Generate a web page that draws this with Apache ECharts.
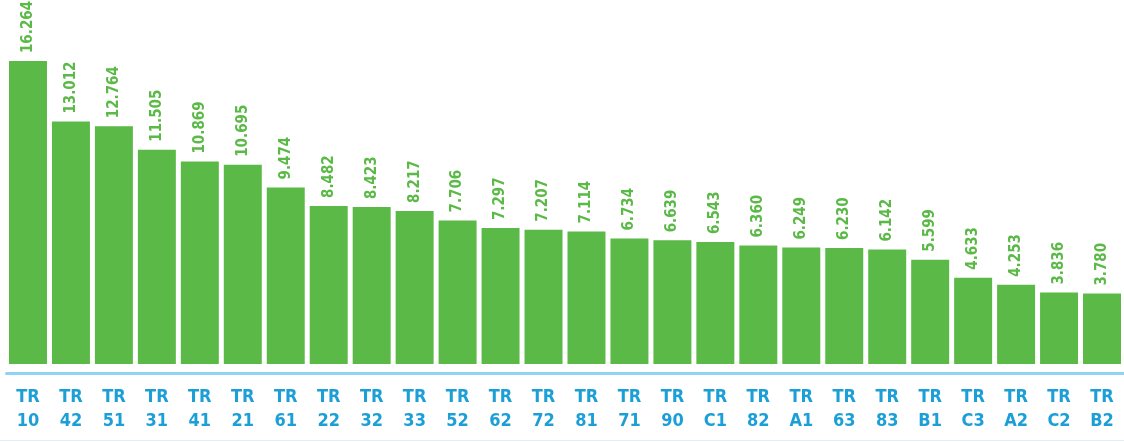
<!DOCTYPE html>
<html><head><meta charset="utf-8">
<script src="https://cdn.jsdelivr.net/npm/echarts@6/dist/echarts.min.js"></script>
<style>html,body{margin:0;padding:0;background:#fff}#c{width:1124px;height:442px}</style>
</head><body><div id="c"></div>
<script>
var codes = ['10','42','51','31','41','21','61','22','32','33','52','62','72','81','71','90','C1','82','A1','63','83','B1','C3','A2','C2','B2'];
var values = [16.264,13.012,12.764,11.505,10.869,10.695,9.474,8.482,8.423,8.217,7.706,7.297,7.207,7.114,6.734,6.639,6.543,6.360,6.249,6.230,6.142,5.599,4.633,4.253,3.836,3.780];
var categories = codes.map(function(c){return 'TR\n' + c;});
var chart = echarts.init(document.getElementById('c'), null, {renderer:'canvas'});
var font = '"DejaVu Sans Condensed","Liberation Sans Narrow",sans-serif';
chart.setOption({
  animation:false,
  grid:{left:6.5, right:0.5, top:0, bottom:78},
  xAxis:{type:'category', data:categories, offset:9,
    axisLine:{onZero:false, lineStyle:{color:'#8fd3f4', width:3}},
    axisTick:{show:false},
    axisLabel:{color:'#1c9fd6', fontFamily:font, fontWeight:'bold', fontSize:18, lineHeight:23.5, margin:13, interval:0}},
  yAxis:{type:'value', min:0, max:19.54, show:false, splitLine:{show:false}},
  series:[{type:'bar', data:values, barCategoryGap:'11.6%',
    itemStyle:{color:'#5bb947'},
    label:{show:true, position:'top', rotate:90, align:'left', verticalAlign:'middle', distance:8,
      color:'#5bb947', fontFamily:font, fontWeight:'bold', fontSize:15,
      formatter:function(p){return p.value.toFixed(3);}}}],
  graphic:[{type:'rect', left:0, bottom:1, shape:{width:1124, height:1}, style:{fill:'#e3eff5'}}]
});
</script></body></html>
